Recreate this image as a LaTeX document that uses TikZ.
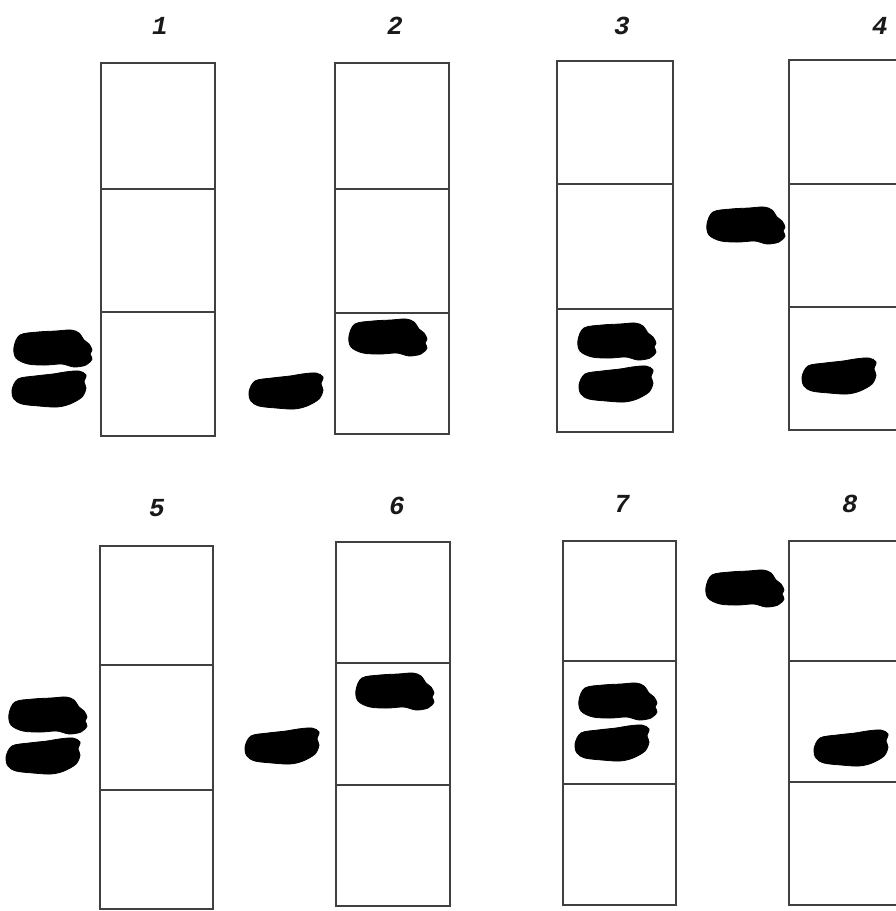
\documentclass[tikz,border=0pt]{standalone}
\usepackage{fontspec}
\setmonofont{Liberation Mono}
\begin{document}
\begin{tikzpicture}[x=1pt,y=-1pt,
  boxline/.style={draw=black!75,line width=1.1pt},
  numlabel/.style={font=\fontsize{26}{28}\selectfont\ttfamily\itshape\bfseries,text=black!90,inner sep=0pt},
  footfill/.style={fill=black,draw=black,line width=0.8pt},
  footA/.pic={\fill[footfill] plot[smooth cycle,tension=0.55] coordinates{(0,16) (6,4) (24,1) (42,0) (57,-1) (65,2) (70,9) (75,13) (78,19) (76,23) (78,28) (72,34) (60,36) (48,33) (32,34) (14,33) (2,27)};},
  footB/.pic={\fill[footfill] plot[smooth cycle,tension=0.55] coordinates{(-1,18) (5,7) (22,4) (40,2) (52,0) (66,-1) (73,3) (71,10) (73,16) (69,25) (57,32) (44,35) (26,34) (9,32) (1,27)};}
]
\useasboundingbox (0,0) rectangle (896,911);
\clip (0,0) rectangle (896,911);
\fill[white] (0,0) rectangle (896,911);

% panel boxes: x1 x2 ytop ybottom d1 d2
\foreach \xa/\xb/\ya/\yb/\da/\db in {101/215/63/436/189/312, 335/449/63/434/189/313, 557/673/61/432/184/309, 789/905/60/430/184/307, 100/213/546/909/665/790, 336/450/542/906/663/785, 563/676/541/905/661/784, 789/905/541/905/661/782}{
  \draw[boxline] (\xa,\ya) rectangle (\xb,\yb);
  \draw[boxline] (\xa,\da) -- (\xb,\da);
  \draw[boxline] (\xa,\db) -- (\xb,\db);
}

% numbers
\node[numlabel] (n1) at (160,26) {1};
\node[numlabel] (n2) at (395,26) {2};
\node[numlabel] (n3) at (622,26) {3};
\node[numlabel] (n4) at (880,26) {4};
\node[numlabel] (n5) at (157,508) {5};
\node[numlabel] (n6) at (397,506) {6};
\node[numlabel] (n7) at (622,504) {7};
\node[numlabel] (n8) at (850,504) {8};

% footprints
\pic at (14,331) {footA};
\pic at (13,372) {footB};
\pic at (250,374) {footB};
\pic at (349,320) {footA};
\pic at (578,324) {footA};
\pic at (580,367) {footB};
\pic at (707,208) {footA};
\pic at (803,359) {footB};
\pic at (9,698) {footA};
\pic at (7,739) {footB};
\pic at (246,729) {footB};
\pic at (356,674) {footA};
\pic at (579,684) {footA};
\pic at (576,726) {footB};
\pic at (706,571) {footA};
\pic at (815,731) {footB};
\end{tikzpicture}
\end{document}
